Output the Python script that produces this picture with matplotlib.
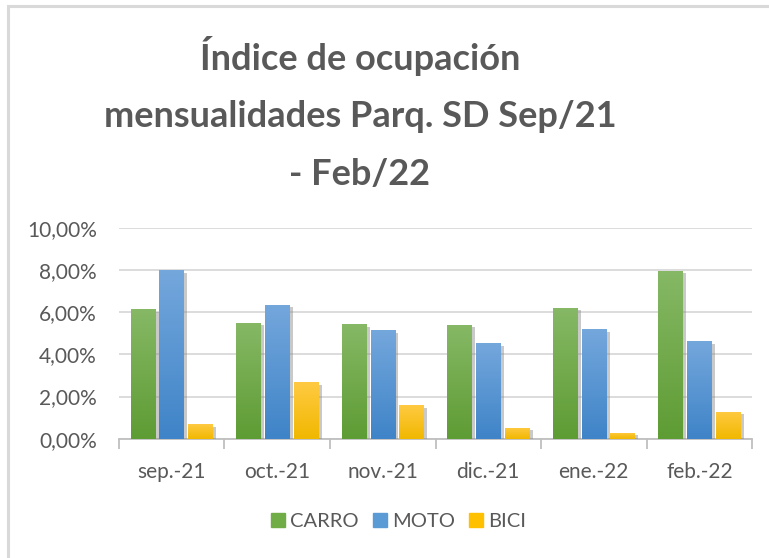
import matplotlib.pyplot as plt
import matplotlib.patheffects as pe
from matplotlib.colors import LinearSegmentedColormap
from matplotlib.patches import Rectangle
from matplotlib.lines import Line2D
from matplotlib.ticker import FuncFormatter, FixedLocator
import numpy as np

meses = ['sep.-21', 'oct.-21', 'nov.-21', 'dic.-21', 'ene.-22', 'feb.-22']
carro = [6.16, 5.51, 5.44, 5.41, 6.22, 7.98]
moto = [8.01, 6.36, 5.16, 4.53, 5.20, 4.62]
bici = [0.70, 2.68, 1.58, 0.53, 0.29, 1.29]

series = ['CARRO', 'MOTO', 'BICI']
# colores arriba / abajo del degradado y color de leyenda
colores = {
    'CARRO': ('#86B865', '#5E9C34', '#70AD47'),
    'MOTO': ('#74A7DC', '#3F84C8', '#5B9BD5'),
    'BICI': ('#FFCA42', '#F1B800', '#FFC000'),
}
gris = '#595959'

plt.rcParams['font.family'] = ['Lato', 'DejaVu Sans']

fig = plt.figure(figsize=(7.69, 5.58), dpi=100)
ax = fig.add_axes([0.1547, 0.2138, 0.8233, 0.3776])

# marco del grafico
fig.patches.append(Rectangle((8 / 769, -0.1), 1.2, 1.1 - 6 / 558, transform=fig.transFigure,
                             fill=False, edgecolor='#D9D9D9', linewidth=2.2))

x = np.arange(len(meses))
ancho = 0.232
paso = 0.274
sombra = [pe.SimplePatchShadow(offset=(2.5, -2), shadow_rgbFace='#888888', alpha=0.45),
          pe.Normal()]

for i, (nombre, vals) in enumerate(zip(series, [carro, moto, bici])):
    arriba, abajo, _ = colores[nombre]
    cmap = LinearSegmentedColormap.from_list(nombre, [abajo, arriba])
    barras = ax.bar(x + (i - 1) * paso, vals, ancho, color='none', zorder=3)
    for b in barras:
        b.set_path_effects(sombra)
        b.set_facecolor((1, 1, 1, 0))
        bx, by = b.get_x(), b.get_y()
        w, h = b.get_width(), b.get_height()
        grad = np.linspace(0, 1, 100).reshape(-1, 1)
        im = ax.imshow(grad, cmap=cmap, origin='lower', aspect='auto',
                       extent=[bx, bx + w, by, by + h], zorder=3.5)
        im.set_clip_path(b)

ax.set_xlim(-0.5, len(meses) - 0.5)
ax.set_ylim(0, 10)
ax.set_yticks(np.arange(0, 10.1, 2))
ax.yaxis.set_major_formatter(FuncFormatter(lambda v, p: f'{v:.2f}'.replace('.', ',') + '%'))
ax.set_xticks(x)
ax.set_xticklabels(meses)
ax.xaxis.set_minor_locator(FixedLocator(np.arange(-0.5, len(meses), 1)))
ax.tick_params(axis='x', which='major', length=0, pad=17, labelsize=15, labelcolor=gris)
ax.tick_params(axis='x', which='minor', length=7, color='#BFBFBF', width=1.3)
ax.tick_params(axis='y', length=0, pad=15.8, labelsize=15, labelcolor=gris)
ax.grid(axis='y', color='#D9D9D9', linewidth=1.3, zorder=0)
ax.set_axisbelow(True)
for s in ['top', 'right', 'left']:
    ax.spines[s].set_visible(False)
ax.spines['bottom'].set_color('#BFBFBF')
ax.spines['bottom'].set_linewidth(1.3)

fig.text(0.468, 0.797, 'Índice de ocupación\nmensualidades Parq. SD Sep/21\n- Feb/22',
         ha='center', va='center', fontsize=26, fontweight='bold', color=gris,
         linespacing=1.9)

handles = [Line2D([], [], marker='s', linestyle='none', markersize=10,
                  color=colores[n][2]) for n in series]
fig.legend(handles, series, loc='center', bbox_to_anchor=(0.518, 0.066), ncol=3,
           frameon=False, fontsize=14.5, labelcolor=gris, handlelength=0.7,
           handletextpad=0.25, columnspacing=0.7)

fig.savefig('out.png', dpi=100)
